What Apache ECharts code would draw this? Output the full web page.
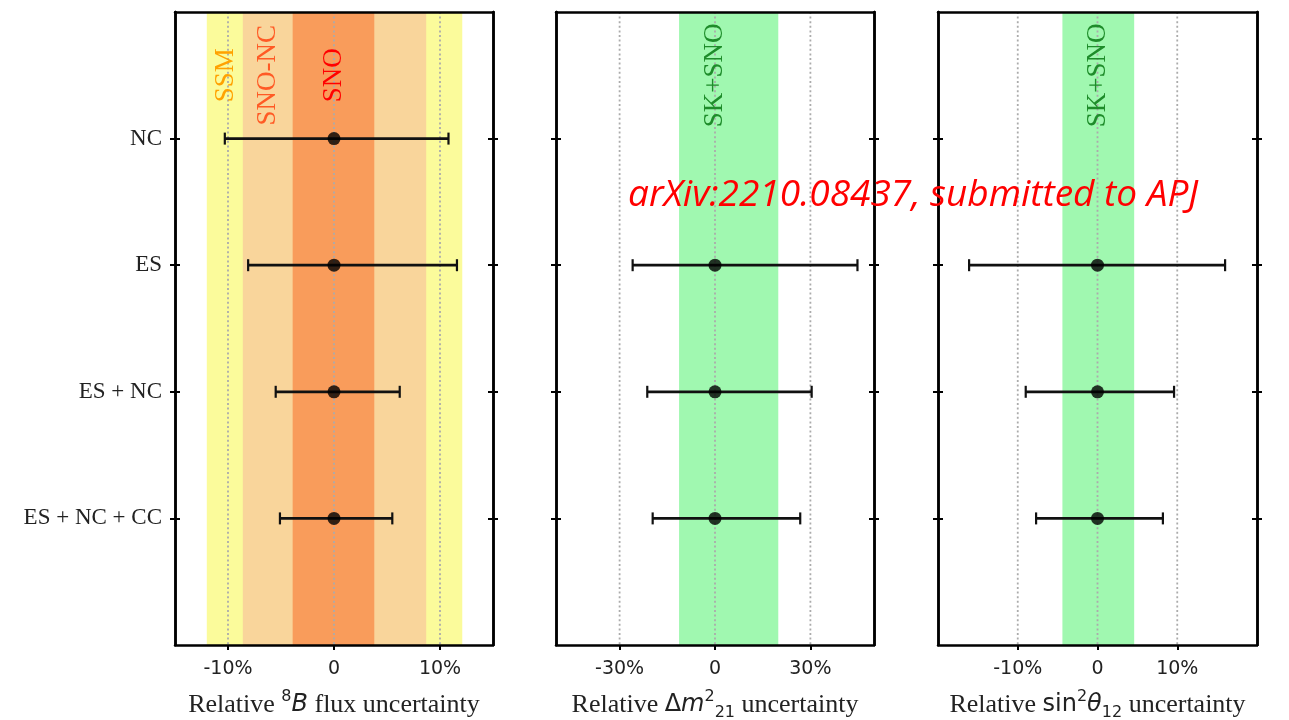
<!DOCTYPE html>
<html>
<head>
<meta charset="utf-8">
<script src="https://cdn.jsdelivr.net/npm/echarts@6/dist/echarts.min.js"></script>
<style>
  html, body { margin: 0; padding: 0; background: #fff; }
  #chart { width: 1289px; height: 720px; }
</style>
</head>
<body>
<div id="chart"></div>
<script>
// ---- data -------------------------------------------------------------
const rowLabels = ['NC', 'ES', 'ES + NC', 'ES + NC + CC'];
const rowPositions = [1, 2, 3, 4];

// relative 8B flux uncertainty (%)
const fluxCentral = [0, 0, 0, 0];
const fluxLow = [-10.3, -8.1, -5.5, -5.1];
const fluxHigh = [10.8, 11.6, 6.2, 5.5];

// relative Δm²21 uncertainty (%)
const dm21Central = [null, 0, 0, 0];
const dm21Low = [null, -25.9, -21.3, -19.6];
const dm21High = [null, 44.8, 30.4, 26.8];

// relative sin²θ12 uncertainty (%)
const sinCentral = [null, 0, 0, 0];
const sinLow = [null, -16.1, -9.0, -7.7];
const sinHigh = [null, 16.0, 9.6, 8.2];

// reference bands
const fluxBandNames = ['SSM', 'SNO-NC', 'SNO'];
const fluxBandLow = [-12.0, -8.6, -3.9];
const fluxBandHigh = [12.1, 8.7, 3.8];
const fluxBandLabelAt = [-10.2, -6.2, 0];

const dm21BandNames = ['SK+SNO'];
const dm21BandLow = [-11.3];
const dm21BandHigh = [19.9];
const dm21BandLabelAt = [0];

const sinBandNames = ['SK+SNO'];
const sinBandLow = [-4.4];
const sinBandHigh = [4.6];
const sinBandLabelAt = [0];

// axis ranges and tick values
const fluxRange = [-15, 15];
const fluxTicks = [-10, 0, 10];
const dm21Range = [-50, 50];
const dm21Ticks = [-30, 0, 30];
const sinRange = [-20, 20];
const sinTicks = [-10, 0, 10];

const rowRange = [0, 5];
const bandLabelRow = 0.5;

// ---- styling ------------------------------------------------------------
const SERIF = '"Liberation Serif", "Times New Roman", serif';
const SANS = '"DejaVu Sans", sans-serif';
const fluxBandColors = ['#fbfb9b', '#f9d59b', '#f99c5b'];
const fluxLabelColors = ['#ffa200', '#ff5a25', '#ff0000'];
const greenBand = ['#a0f8b0'];
const greenLabel = ['#1e8c2a'];

const nameRich = {
  r: { fontFamily: SERIF, fontSize: 26, color: '#222', lineHeight: 32 },
  sf: { fontFamily: SANS, fontSize: 24, color: '#222', lineHeight: 32 },
  it: { fontFamily: SANS, fontStyle: 'italic', fontSize: 24, color: '#222', lineHeight: 32 },
  sup: { fontFamily: SANS, fontSize: 16, color: '#222', verticalAlign: 'top', lineHeight: 18 },
  sub: { fontFamily: SANS, fontSize: 16, color: '#222', verticalAlign: 'bottom', lineHeight: 16 }
};

const panels = [
  {
    left: 175, width: 318,
    range: fluxRange, ticks: fluxTicks,
    central: fluxCentral, low: fluxLow, high: fluxHigh,
    bandNames: fluxBandNames, bandLow: fluxBandLow, bandHigh: fluxBandHigh, bandLabelAt: fluxBandLabelAt,
    bandColors: fluxBandColors, labelColors: fluxLabelColors,
    title: '{r|Relative }{sup|8}{it|B}{r| flux uncertainty}',
    showRows: true
  },
  {
    left: 556, width: 318,
    range: dm21Range, ticks: dm21Ticks,
    central: dm21Central, low: dm21Low, high: dm21High,
    bandNames: dm21BandNames, bandLow: dm21BandLow, bandHigh: dm21BandHigh, bandLabelAt: dm21BandLabelAt,
    bandColors: greenBand, labelColors: greenLabel,
    title: '{r|Relative }{sf|Δ}{it|m}{sup|2}{sub|21}{r| uncertainty}',
    showRows: false
  },
  {
    left: 938, width: 319,
    range: sinRange, ticks: sinTicks,
    central: sinCentral, low: sinLow, high: sinHigh,
    bandNames: sinBandNames, bandLow: sinBandLow, bandHigh: sinBandHigh, bandLabelAt: sinBandLabelAt,
    bandColors: greenBand, labelColors: greenLabel,
    title: '{r|Relative }{sf|sin}{sup|2}{it|θ}{sub|12}{r| uncertainty}',
    showRows: false
  }
];

const grids = [];
const xAxes = [];
const yAxes = [];
const series = [];

const frameLine = { show: true, onZero: false, lineStyle: { color: '#000', width: 2.5 } };

panels.forEach((p, g) => {
  grids.push({ left: p.left, width: p.width, top: 12, bottom: 75, outerBoundsMode: 'none', containLabel: false });

  const xMain = xAxes.length;
  xAxes.push({
    gridIndex: g, type: 'value', position: 'bottom', min: p.range[0], max: p.range[1], z: 5,
    axisLine: frameLine,
    axisTick: { show: true, customValues: p.ticks, length: 5, lineStyle: { color: '#000', width: 2 } },
    axisLabel: {
      show: true, customValues: p.ticks, margin: 15,
      fontFamily: SANS, fontSize: 19, color: '#222',
      formatter: v => (v === 0 ? '0' : v + '%')
    },
    splitLine: { show: false },
    name: p.title, nameLocation: 'middle', nameGap: 44,
    nameTextStyle: { rich: nameRich }
  });
  xAxes.push({
    gridIndex: g, type: 'value', position: 'top', min: p.range[0], max: p.range[1], z: 5,
    axisLine: frameLine, axisTick: { show: false }, axisLabel: { show: false }, splitLine: { show: false }
  });

  const yMain = yAxes.length;
  const ySide = (position, inside, labels) => ({
    gridIndex: g, type: 'value', position, inverse: true, min: rowRange[0], max: rowRange[1], z: 5,
    axisLine: frameLine,
    axisTick: { show: true, inside, customValues: rowPositions, length: 5, lineStyle: { color: '#000', width: 2 } },
    axisLabel: labels ? {
      show: true, customValues: rowPositions, margin: 13,
      fontFamily: SERIF, fontSize: 23, color: '#222',
      formatter: v => rowLabels[Math.round(v) - 1] || ''
    } : { show: false },
    splitLine: { show: false }
  });
  yAxes.push(ySide('left', false, p.showRows));
  yAxes.push(ySide('left', true, false));
  yAxes.push(ySide('right', false, false));
  yAxes.push(ySide('right', true, false));

  // shaded reference bands
  series.push({
    type: 'custom', xAxisIndex: xMain, yAxisIndex: yMain, z: 1, silent: true,
    data: p.bandLow.map((lo, i) => [lo, p.bandHigh[i], i]),
    encode: { x: [0, 1] },
    renderItem: (params, api) => {
      const a = api.coord([api.value(0), rowRange[0]]);
      const b = api.coord([api.value(1), rowRange[1]]);
      return {
        type: 'rect',
        shape: { x: a[0], y: Math.min(a[1], b[1]), width: b[0] - a[0], height: Math.abs(b[1] - a[1]) },
        style: { fill: p.bandColors[api.value(2)] }
      };
    }
  });

  // dotted vertical grid at tick values
  series.push({
    type: 'custom', xAxisIndex: xMain, yAxisIndex: yMain, z: 2, silent: true,
    data: p.ticks.map(t => [t]),
    encode: { x: 0 },
    renderItem: (params, api) => {
      const a = api.coord([api.value(0), rowRange[0]]);
      const b = api.coord([api.value(0), rowRange[1]]);
      return {
        type: 'line',
        shape: { x1: a[0], y1: a[1], x2: b[0], y2: b[1] },
        style: { stroke: '#ababab', lineWidth: 1.8, lineDash: [2, 2.6] }
      };
    }
  });

  // error bars
  const barData = [];
  p.low.forEach((lo, i) => {
    if (lo !== null) barData.push([lo, p.high[i], rowPositions[i]]);
  });
  series.push({
    type: 'custom', xAxisIndex: xMain, yAxisIndex: yMain, z: 3, silent: true,
    data: barData,
    encode: { x: [0, 1], y: 2 },
    renderItem: (params, api) => {
      const a = api.coord([api.value(0), api.value(2)]);
      const b = api.coord([api.value(1), api.value(2)]);
      const cap = 6;
      return {
        type: 'group',
        children: [
          { type: 'line', shape: { x1: a[0], y1: a[1], x2: b[0], y2: b[1] }, style: { stroke: '#111', lineWidth: 2.8 } },
          { type: 'line', shape: { x1: a[0], y1: a[1] - cap, x2: a[0], y2: a[1] + cap }, style: { stroke: '#111', lineWidth: 2.2 } },
          { type: 'line', shape: { x1: b[0], y1: b[1] - cap, x2: b[0], y2: b[1] + cap }, style: { stroke: '#111', lineWidth: 2.2 } }
        ]
      };
    }
  });

  // central values
  const pts = [];
  p.central.forEach((c, i) => {
    if (c !== null) pts.push([c, rowPositions[i]]);
  });
  series.push({
    type: 'scatter', xAxisIndex: xMain, yAxisIndex: yMain, z: 4, silent: true,
    symbol: 'circle', symbolSize: 13, itemStyle: { color: '#000' },
    data: pts
  });

  // band names, written vertically
  series.push({
    type: 'scatter', xAxisIndex: xMain, yAxisIndex: yMain, z: 4, silent: true,
    symbol: 'circle', symbolSize: 1, itemStyle: { color: '#ffffff', opacity: 0 },
    data: p.bandNames.map((n, i) => ({
      value: [p.bandLabelAt[i], bandLabelRow],
      label: { color: p.labelColors[i] }
    })),
    label: {
      show: true, position: 'inside', rotate: 90, opacity: 1,
      textBorderWidth: 0,
      fontFamily: SERIF, fontSize: 27,
      formatter: prm => p.bandNames[prm.dataIndex]
    }
  });
});

const chart = echarts.init(document.getElementById('chart'), null, { renderer: 'canvas' });
chart.setOption({
  animation: false,
  backgroundColor: '#fff',
  grid: grids,
  xAxis: xAxes,
  yAxis: yAxes,
  series: series,
  graphic: [{
    type: 'text', left: 628, top: 177, z: 100,
    style: {
      text: 'arXiv:2210.08437, submitted to APJ',
      font: 'italic 37px "Open Sans", "Liberation Sans", sans-serif',
      fill: '#ff0000'
    }
  }]
});
</script>
</body>
</html>
